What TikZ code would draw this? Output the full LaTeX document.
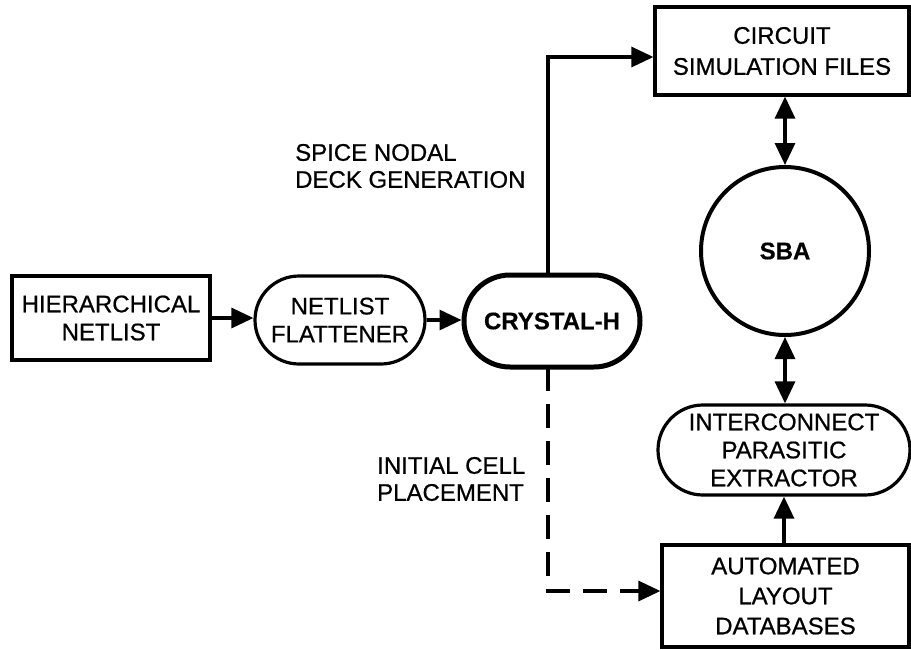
\documentclass[tikz,border=0pt]{standalone}
\usepackage{fontspec}
\setmainfont{Liberation Sans}[FakeBold=0.7]
\newfontfamily\boldface{Liberation Sans Bold}[FakeBold=0.4]
\usetikzlibrary{arrows.meta,shapes.misc}
\begin{document}
\begin{tikzpicture}[x=1pt,y=-1pt,
  every node/.style={font=\fontsize{24}{28}\selectfont, align=center, inner sep=0pt},
  box/.style={draw, line width=3.2pt, rectangle},
  capsule/.style={draw, line width=3.2pt, rounded rectangle},
  tip/.tip={Triangle[length=22pt,width=20pt]},
  arr/.style={line width=3.2pt, -tip},
  darr/.style={line width=3.2pt, tip-tip},
  lbl/.style={align=left, anchor=west}]
\useasboundingbox (0,0) rectangle (911,649);

\node[box, minimum width=198pt, minimum height=84pt] (hier) at (111,318) {HIERARCHICAL\\NETLIST};
\node[capsule, minimum width=170pt, minimum height=88pt] (nf) at (340,320) {NETLIST\\FLATTENER};
\node[capsule, line width=5pt, minimum width=176pt, minimum height=92pt, font=\fontsize{24}{28}\boldface] (cry) at (552,321) {CRYSTAL-H};
\node[box, minimum width=254pt, minimum height=88pt] (csf) at (782,51) {CIRCUIT\\[3pt]SIMULATION FILES};
\node[circle, draw, line width=4pt, minimum size=168pt, font=\fontsize{24}{28}\boldface] (sba) at (785,251) {SBA};
\node[capsule, minimum width=252pt, minimum height=90pt] (ipe) at (784,450) {INTERCONNECT\\PARASITIC\\EXTRACTOR};
\node[box, minimum width=247pt, minimum height=102pt] (ald) at (785.5,596) {AUTOMATED\\[2pt]LAYOUT\\[2pt]DATABASES};

\node[lbl] (spice) at (295,166) {SPICE NODAL\\[-1pt]DECK GENERATION};
\node[lbl] (icp) at (377,479) {INITIAL CELL\\[-1pt]PLACEMENT};

\coordinate (ctop) at (548,275);
\coordinate (cbot) at (548,367);

\draw[arr] (hier.east) -- (hier.east -| nf.west);
\draw[arr] (nf.east) -- (nf.east -| cry.west);
\draw[arr] (ctop) |- ([yshift=-6pt]csf.west);
\draw[darr] (csf.south -| sba.north) -- (sba.north);
\draw[darr] (sba.south) -- (sba.south |- ipe.north);
\draw[arr] (ald.north -| ipe.south) -- (ipe.south);
\draw[arr, dash pattern=on 24pt off 13pt] (cbot) |- ([yshift=5pt]ald.west);
\end{tikzpicture}
\end{document}
